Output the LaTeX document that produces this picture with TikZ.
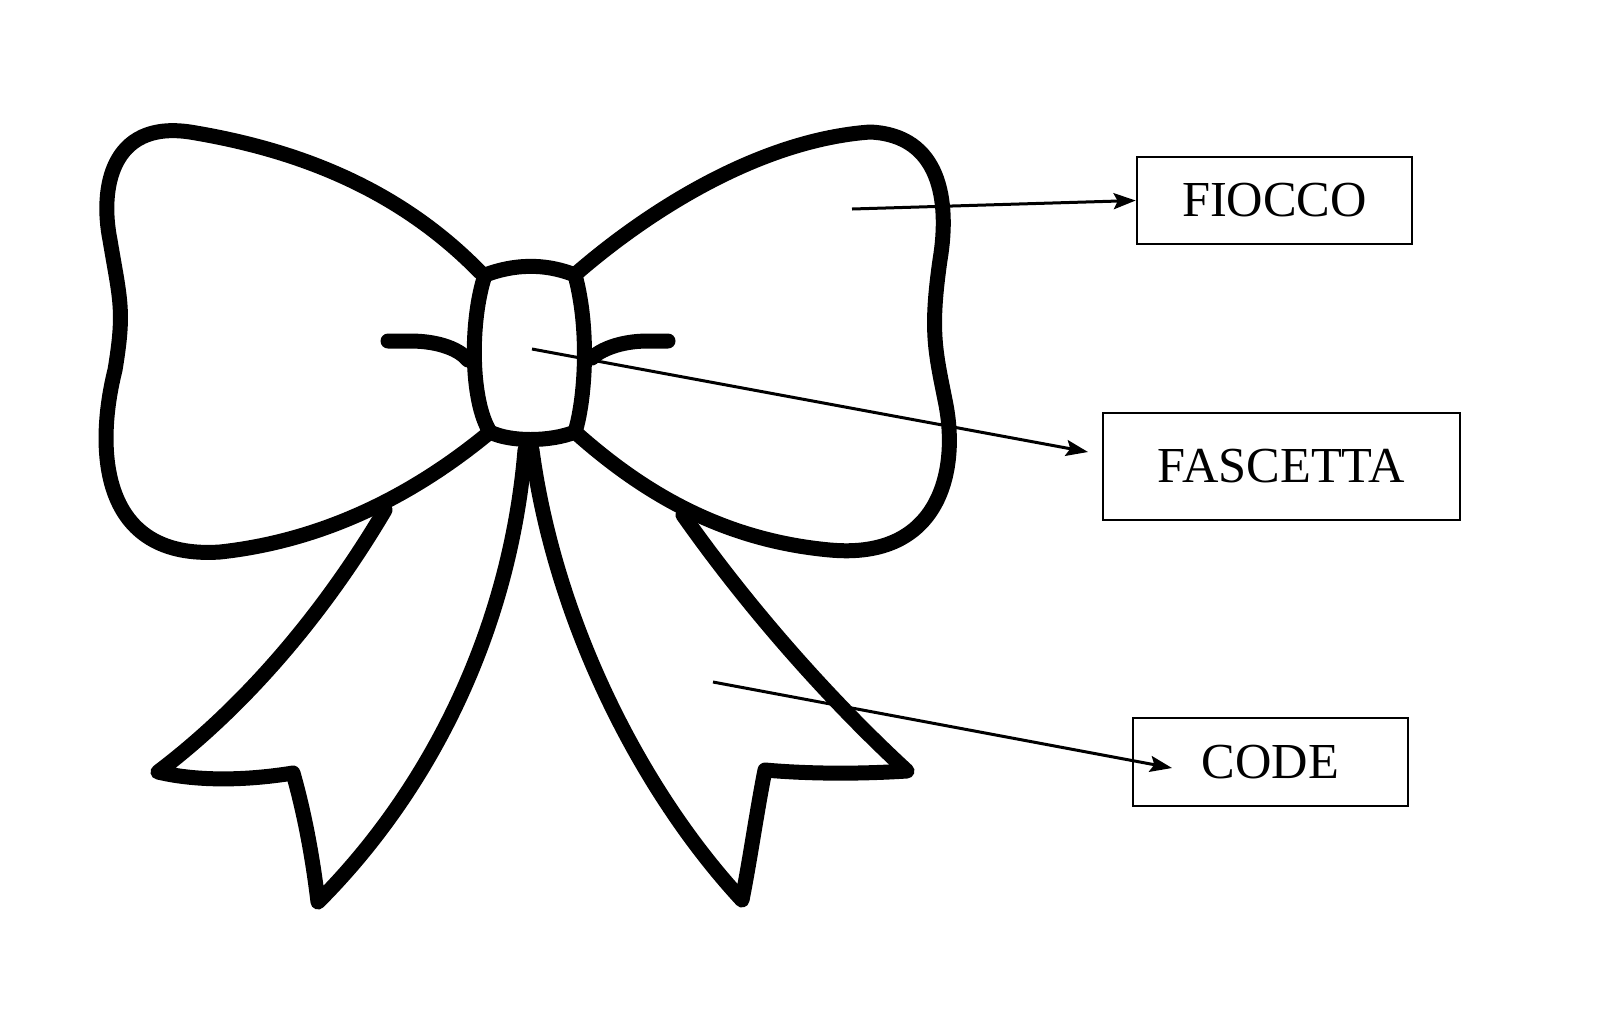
\documentclass[tikz,border=0pt]{standalone}
\usepackage{fontspec}
\setmainfont{Liberation Serif}
\usetikzlibrary{arrows.meta}
\begin{document}
\begin{tikzpicture}[x=0.5bp,y=-0.5bp,
 bow/.style={line width=7.5bp,line join=round,line cap=round},
 lab/.style={draw,line width=1.3bp,font=\fontsize{25.3}{28}\selectfont,inner sep=0pt},
 ptr/.style={line width=1.5bp,-{Stealth[length=11bp,width=8bp,inset=2bp,fill=black]}}]
\useasboundingbox (0,0) rectangle (1600,1034);
% left loop
\draw[bow] (480,272) .. controls (400,190) and (300,150) .. (190,132) .. controls (110,120) and (100,190) .. (110,240) .. controls (120,300) and (125,310) .. (115,370) .. controls (95,450) and (100,560) .. (220,552) .. controls (330,540) and (420,490) .. (490,432);
% right loop
\draw[bow] (578,272) .. controls (650,210) and (760,140) .. (870,132) .. controls (940,135) and (950,200) .. (940,260) .. controls (930,330) and (935,350) .. (945,400) .. controls (960,470) and (940,560) .. (830,550) .. controls (720,540) and (640,490) .. (575,432);
% knot
\draw[bow] (485,275) .. controls (520,262) and (550,265) .. (575,275) .. controls (590,330) and (585,400) .. (575,432) .. controls (550,442) and (510,442) .. (490,432) .. controls (470,400) and (470,320) .. (485,275) -- cycle;
% whiskers
\draw[bow] (388,341) -- (410,341) .. controls (440,341) and (460,350) .. (468,360);
\draw[bow] (668,341) -- (648,341) .. controls (620,341) and (600,350) .. (592,358);
% tails
\draw[bow] (385,510) .. controls (320,620) and (240,710) .. (158,772) .. controls (200,782) and (250,780) .. (293,773) .. controls (305,815) and (313,860) .. (318,902) .. controls (430,790) and (510,630) .. (525,450);
\draw[bow] (532,450) .. controls (555,620) and (640,790) .. (742,900) .. controls (750,860) and (757,810) .. (765,770) .. controls (810,774) and (860,774) .. (907,771) .. controls (830,700) and (750,610) .. (683,515);
% labels
\node[lab,minimum width=137.5bp,minimum height=43.5bp] (f) at (1274.5,200.5) {FIOCCO};
\node[lab,minimum width=178.5bp,minimum height=53.5bp] (fa) at (1281.5,466.5) {FASCETTA};
\node[lab,minimum width=137.5bp,minimum height=44bp] (c) at (1270.5,762) {CODE};
\coordinate (p1) at (852,209);
\coordinate (p2) at (532,349);
\coordinate (p3) at (713,682);
\coordinate (e3) at (1172,768);
\draw[ptr] (p1) -- (f.west);
\draw[ptr] (p2) -- (1088,452);
\draw[ptr] (p3) -- (e3);
\end{tikzpicture}
\end{document}
